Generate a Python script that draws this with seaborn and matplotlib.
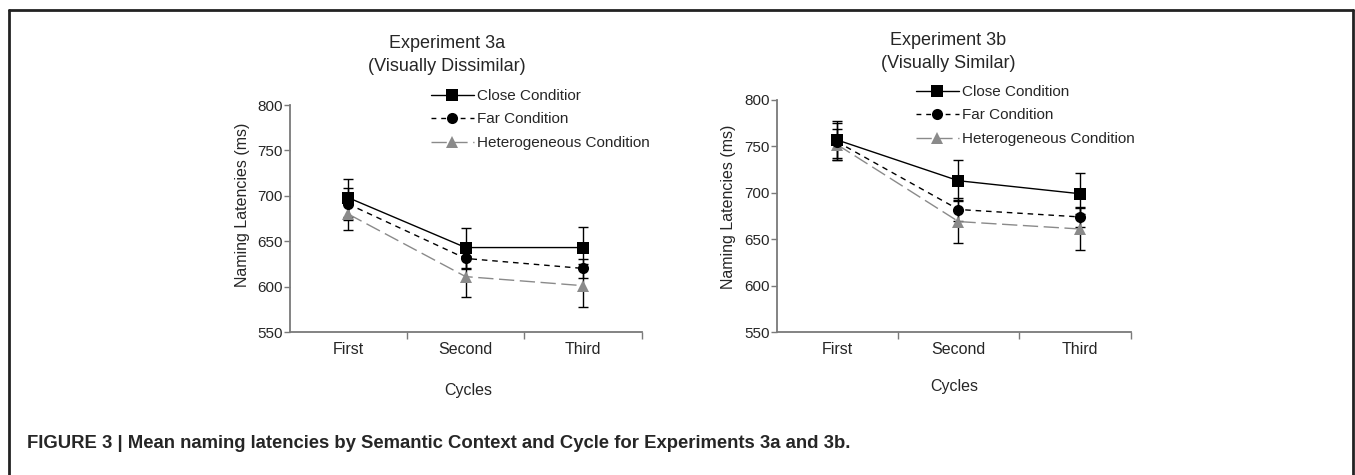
"""
Mean naming latencies by semantic context and cycle (Experiments 3a / 3b)
"""
import pandas as pd
import numpy as np
import matplotlib
matplotlib.use("Agg")
import matplotlib.pyplot as plt
from matplotlib.lines import Line2D
import seaborn as sns

# Data
cycles = ["First", "Second", "Third"]
conditions = ["Close Condition", "Far Condition", "Heterogeneous Condition"]

exp3a_close = [698, 643, 643]
exp3a_far = [691, 631, 620]
exp3a_het = [680, 611, 601]
exp3a_close_err = [21, 22, 23]
exp3a_far_err = [18, 12, 10]
exp3a_het_err = [18, 23, 24]

exp3b_close = [757, 713, 699]
exp3b_far = [755, 682, 674]
exp3b_het = [752, 669, 661]
exp3b_close_err = [20, 22, 22]
exp3b_far_err = [20, 12, 11]
exp3b_het_err = [17, 23, 23]

# Styles
GREY = "#8a8a8a"
SPINE = "#7a7a7a"
colors = {"Close Condition": "black", "Far Condition": "black", "Heterogeneous Condition": GREY}
markers = {"Close Condition": "s", "Far Condition": "o", "Heterogeneous Condition": "^"}
dashes = {"Close Condition": "", "Far Condition": (4, 3.5), "Heterogeneous Condition": (11, 4)}

sns.set_style("white")
plt.rcParams["font.family"] = ["Liberation Sans", "DejaVu Sans"]

W, H = 1355, 475
fig = plt.figure(figsize=(W / 100, H / 100), dpi=100)


def fx(px):
    return px / W


def fy(py):
    return 1 - py / H


def make_frame(means, errs):
    rows = []
    for cond, vals, err in zip(conditions, means, errs):
        for i, (v, e) in enumerate(zip(vals, err)):
            rows.append({"cycle": cycles[i], "pos": i, "cond": cond, "value": v, "err": e})
    return pd.DataFrame(rows)


def draw_panel(rect, df, xlim, title, legend_anchor, legend_labels, title_xy, ylab_xy, cyc_xy):
    ax = fig.add_axes(rect)
    # error bars first
    for cond in conditions:
        sub = df[df["cond"] == cond]
        ax.errorbar(sub["pos"], sub["value"], yerr=sub["err"], fmt="none",
                    ecolor="black", elinewidth=1.0, capsize=3.5, capthick=1.0, zorder=2)
    n_before = len(ax.lines)
    sns.lineplot(data=df, x="pos", y="value", hue="cond", style="cond",
                 palette=colors, markers=markers, dashes=dashes,
                 hue_order=conditions[::-1], style_order=conditions[::-1],
                 markersize=8, linewidth=1.0,
                 legend=False, ax=ax, zorder=3)
    for ln in ax.lines[n_before:]:
        ln.set_markeredgewidth(0)

    ax.set_xlim(*xlim)
    ax.set_ylim(550, 800)
    ax.set_yticks(np.arange(550, 801, 50))
    ax.set_xticks([0.5, 1.5, xlim[1]], minor=False)
    ax.set_xticklabels([])
    ax.tick_params(axis="x", direction="out", length=5, width=1, color=SPINE, bottom=True)
    ax.tick_params(axis="y", direction="out", length=4, width=1, color=SPINE, left=True,
                   labelsize=11, pad=1)
    for i, c in enumerate(cycles):
        ax.text(i, -0.045, c, transform=ax.get_xaxis_transform(), ha="center", va="top",
                fontsize=11.5)
    for side in ["top", "right"]:
        ax.spines[side].set_visible(False)
    for side in ["left", "bottom"]:
        ax.spines[side].set_color(SPINE)
        ax.spines[side].set_linewidth(1.3)
    ax.set_xlabel("")
    ax.set_ylabel("")

    fig.text(fx(title_xy[0]), fy(title_xy[1]), title, ha="center", va="center",
             fontsize=13, linespacing=1.5)
    fig.text(fx(ylab_xy[0]), fy(ylab_xy[1]), "Naming Latencies (ms)", rotation=90,
             ha="center", va="center", fontsize=11.5)
    fig.text(fx(cyc_xy[0]), fy(cyc_xy[1]), "Cycles", ha="center", va="center", fontsize=11.5)

    handles = [
        Line2D([], [], color="black", lw=1, marker="s", ms=8, mew=0),
        Line2D([], [], color="black", lw=1, ls=(0, (3.5, 3.5)), marker="o", ms=8, mew=0),
        Line2D([], [], color=GREY, lw=1, ls=(0, (11, 4)), marker="^", ms=8, mew=0),
    ]
    fig.legend(handles, legend_labels, loc="upper left",
               bbox_to_anchor=(fx(legend_anchor[0]), fy(legend_anchor[1])),
               frameon=False, fontsize=11, handlelength=2.8, handletextpad=0.2,
               labelspacing=0.62, borderpad=0, borderaxespad=0)
    return ax


df_a = make_frame([exp3a_close, exp3a_far, exp3a_het],
                  [exp3a_close_err, exp3a_far_err, exp3a_het_err])
df_b = make_frame([exp3b_close, exp3b_far, exp3b_het],
                  [exp3b_close_err, exp3b_far_err, exp3b_het_err])

draw_panel([fx(290), fy(332), fx(352), (332 - 105) / H], df_a, (-0.494, 2.5),
           "Experiment 3a\n(Visually Dissimilar)", (431, 89),
           ["Close Conditior", "Far Condition", "Heterogeneous Condition"],
           (447, 55), (242, 205), (468, 390))
draw_panel([fx(777), fy(332), fx(354), (332 - 100) / H], df_b, (-0.494, 2.42),
           "Experiment 3b\n(Visually Similar)", (916, 85),
           ["Close Condition", "Far Condition", "Heterogeneous Condition"],
           (948, 52), (728, 207), (954, 386))

# caption
fig.text(fx(27), fy(444), "FIGURE 3 | Mean naming latencies by Semantic Context and Cycle for Experiments 3a and 3b.",
         ha="left", va="center", fontsize=13.3, fontweight="bold")

# page frame (top, left, right)
frame_kw = dict(color="#222222", lw=2, transform=fig.transFigure, clip_on=False)
fig.add_artist(Line2D([fx(9), fx(1353)], [fy(10), fy(10)], **frame_kw))
fig.add_artist(Line2D([fx(9), fx(9)], [fy(10), 0], **frame_kw))
fig.add_artist(Line2D([fx(1353), fx(1353)], [fy(10), 0], **frame_kw))

fig.savefig("out.png", dpi=100)
